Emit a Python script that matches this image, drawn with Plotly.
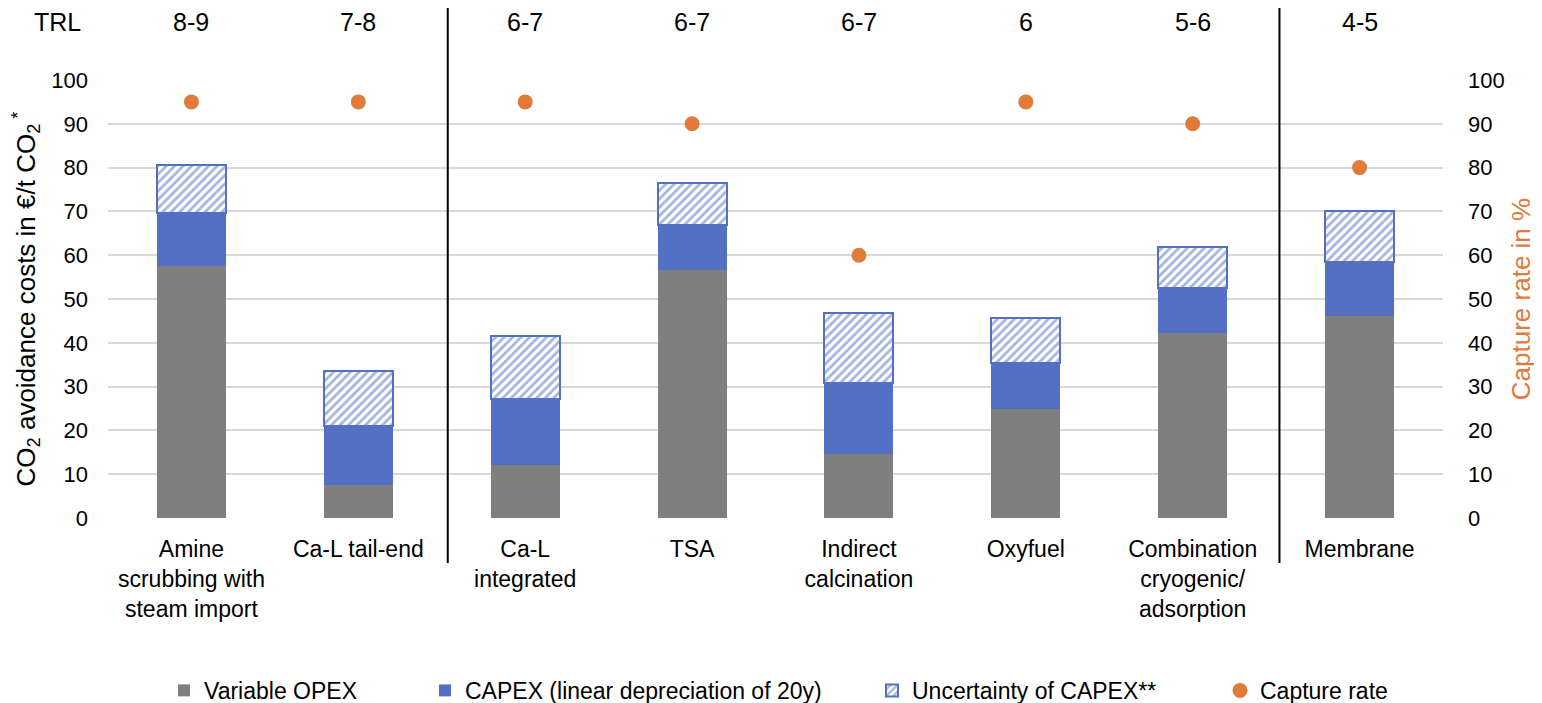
import plotly.graph_objects as go
from plotly.subplots import make_subplots

categories = ["Amine<br>scrubbing with<br>steam import", "Ca-L tail-end", "Ca-L<br>integrated", "TSA",
              "Indirect<br>calcination", "Oxyfuel", "Combination<br>cryogenic/<br>adsorption", "Membrane"]
trl = ["8-9", "7-8", "6-7", "6-7", "6-7", "6", "5-6", "4-5"]
variable_opex = [57.6, 7.6, 12.2, 56.7, 14.7, 24.9, 42.3, 46.2]
capex = [12.1, 13.4, 15.0, 10.2, 16.2, 10.6, 10.3, 12.2]
capex_uncertainty = [10.8, 12.6, 14.4, 9.6, 15.9, 10.1, 9.3, 11.8]
capture_rate = [95, 95, 95, 90, 60, 95, 90, 80]
separators_after = [1.536, 6.52]

FONT = "Liberation Sans, Arial, sans-serif"
GREY = "#7f7f7f"
BLUE = "#5470c4"
ORANGE = "#e07b39"

fig = make_subplots(specs=[[{"secondary_y": True}]])

fig.add_trace(go.Bar(x=categories, y=variable_opex, name="Variable OPEX", legend="legend",
                     marker=dict(color=GREY, line=dict(width=0))), secondary_y=False)
fig.add_trace(go.Bar(x=categories, y=capex, name="CAPEX (linear depreciation of 20y)", legend="legend2",
                     marker=dict(color=BLUE, line=dict(width=0))), secondary_y=False)
fig.add_trace(go.Bar(x=categories, y=capex_uncertainty, name="Uncertainty of CAPEX**", legend="legend3",
                     marker=dict(color="white", line=dict(color=BLUE, width=2),
                                 pattern=dict(shape="/", fgcolor="#4a66c0", bgcolor="white",
                                              size=6, solidity=0.45))), secondary_y=False)
fig.add_trace(go.Scatter(x=categories, y=capture_rate, name="Capture rate", mode="markers", legend="legend4",
                         marker=dict(color=ORANGE, size=15)), secondary_y=True)

for xs in separators_after:
    fig.add_shape(type="line", xref="x", yref="paper", x0=xs, x1=xs, y0=-0.103, y1=1.171,
                  line=dict(color="black", width=2))

for c, t in zip(categories, trl):
    fig.add_annotation(x=c, y=1.1325, xref="x", yref="paper", text=t, showarrow=False,
                       font=dict(size=25, color="#000", family=FONT), yanchor="middle")
fig.add_annotation(x=-0.038, y=1.1325, xref="paper", yref="paper", text="TRL", showarrow=False,
                   font=dict(size=25, color="#000", family=FONT), yanchor="middle", xanchor="center")

# the page adds an 8px body margin, so the figure margins are shifted by 8px
PLOT_L, PLOT_W = 108, 1335
def leg(px):
    return dict(orientation="h", x=(px - 28 - PLOT_L) / PLOT_W, xanchor="left", y=-0.3937, yanchor="middle",
                font=dict(size=23, family=FONT, color="#000"), itemwidth=30, bgcolor="rgba(0,0,0,0)")

fig.update_layout(
    width=1542, height=703,
    margin=dict(l=100, r=107, t=72, b=193, autoexpand=False),
    barmode="stack", bargap=0.587,
    plot_bgcolor="white", paper_bgcolor="white",
    font=dict(family=FONT, size=22, color="#000"),
    showlegend=True,
    legend=leg(192), legend2=leg(453), legend3=leg(900), legend4=leg(1248),
)
fig.update_xaxes(domain=[0, 1], tickfont=dict(size=23, family=FONT, color="#000"), showgrid=False,
                 showline=False, ticks="", ticklabelstandoff=15)
fig.update_yaxes(range=[0, 100], dtick=10, showgrid=True, gridcolor="#d9d9d9", gridwidth=1.5,
                 zeroline=False, showline=False, ticks="",
                 tickfont=dict(size=22, family=FONT, color="#000"), ticklabelstandoff=19,
                 title=dict(text="CO<sub>2</sub> avoidance costs in €/t CO<sub>2</sub><sup> *</sup>",
                            font=dict(size=26, family=FONT, color="#000"), standoff=8),
                 secondary_y=False)
fig.update_yaxes(range=[0, 100], dtick=10, showgrid=False, zeroline=False, showline=False, ticks="",
                 tickfont=dict(size=22, family=FONT, color="#000"), ticklabelstandoff=24,
                 title=dict(text="Capture rate in %", font=dict(size=26, family=FONT, color=ORANGE),
                            standoff=8),
                 secondary_y=True)

fig.write_html("out.html")
